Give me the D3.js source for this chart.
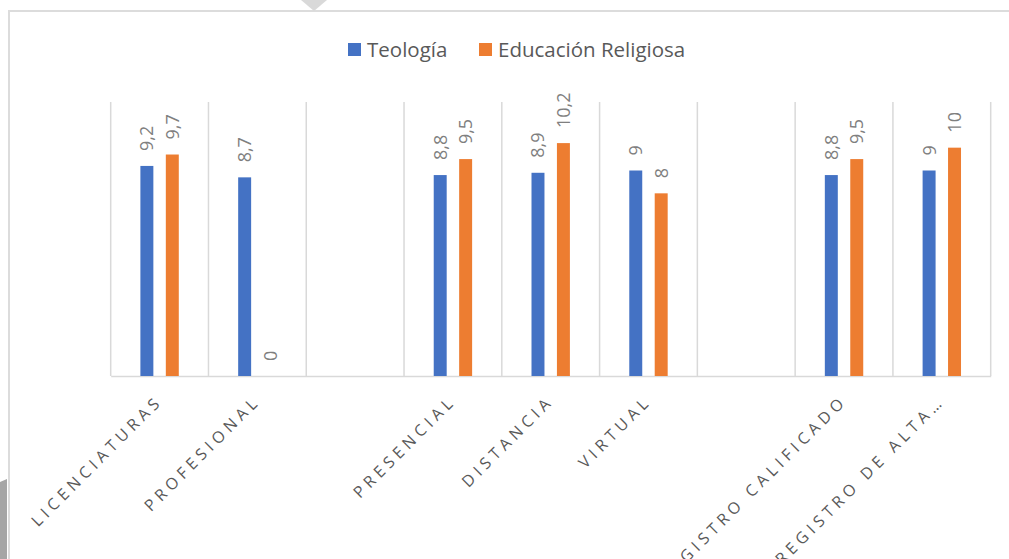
<!DOCTYPE html>
<html lang="es">
    <head>
        <meta charset="UTF-8" />
        <title>Teología vs Educación Religiosa</title>
        <script src="https://cdn.jsdelivr.net/npm/d3@7"></script>
        <style>
            body { margin: 0; padding: 0; background: #fff; }
            text { font-family: "Open Sans", "Noto Sans", sans-serif; }
        </style>
    </head>
    <body>
        <script>
            // datos (los huecos son categorías vacías)
            const categorias = ['LICENCIATURAS', 'PROFESIONAL', '', 'PRESENCIAL', 'DISTANCIA', 'VIRTUAL', '', 'REGISTRO CALIFICADO', 'REGISTRO DE ALTA…'];
            const series = ['Teología', 'Educación Religiosa'];
            const teologia = [9.2, 8.7, null, 8.8, 8.9, 9, null, 8.8, 9];
            const educacion = [9.7, 0, null, 9.5, 10.2, 8, null, 9.5, 10];
            const etiquetasValor = [
                ['9,2', '8,7', '', '8,8', '8,9', '9', '', '8,8', '9'],
                ['9,7', '0', '', '9,5', '10,2', '8', '', '9,5', '10']
            ];
            const colores = ['#4472C4', '#ED7D31'];

            const width = 1009;
            const height = 559;

            const svg = d3
                .select('body')
                .append('svg')
                .attr('width', width)
                .attr('height', height)
                .style('background-color', '#fff');

            // marco del gráfico
            svg.append('path')
                .attr('d', 'M1009 11 H9 V559')
                .attr('fill', 'none')
                .attr('stroke', '#dcdcdc')
                .attr('stroke-width', 2);
            svg.append('path').attr('d', 'M301 0 H327 L314 11 Z').attr('fill', '#d9d9d9');
            svg.append('path').attr('d', 'M0 482 L7 479 V559 H0 Z').attr('fill', '#a6a6a6');

            const x = d3.scaleBand().domain(d3.range(categorias.length)).range([110.7, 990.7]);
            const x1 = d3.scaleBand().domain(d3.range(series.length)).range([-19.2, 19.2]).paddingInner(0.49);
            const y = d3.scaleLinear().domain([0, 12]).range([376, 102]);

            // líneas de división verticales
            const bordes = d3.range(categorias.length + 1).map((i) => (i < categorias.length ? x(i) : x(i - 1) + x.bandwidth()));
            svg.append('g')
                .selectAll('line')
                .data(bordes)
                .join('line')
                .attr('x1', (d) => d)
                .attr('x2', (d) => d)
                .attr('y1', y(12))
                .attr('y2', y(0))
                .attr('stroke', '#d9d9d9')
                .attr('stroke-width', 1.5);

            // eje de categorías
            const eje = svg.append('g')
                .attr('transform', `translate(0,${y(0)})`)
                .call(d3.axisBottom(x).tickSize(0).tickFormat((i) => categorias[i]));
            eje.select('.domain').attr('stroke', '#d9d9d9').attr('stroke-width', 1.5);
            eje.selectAll('text')
                .attr('fill', '#595959')
                .attr('font-size', 16)
                .attr('letter-spacing', '4.6px')
                .attr('text-anchor', 'end')
                .attr('dy', 0)
                .attr('y', 0)
                .attr('transform', 'translate(4,26) rotate(-45)');

            const datos = [teologia, educacion];
            const grupos = svg.append('g')
                .selectAll('g')
                .data(datos)
                .join('g')
                .attr('fill', (d, s) => colores[s]);

            grupos.selectAll('rect')
                .data((d, s) => d.map((v, i) => ({ v, i, s })).filter((e) => e.v !== null))
                .join('rect')
                .attr('x', (e) => x(e.i) + x.bandwidth() / 2 + x1(e.s))
                .attr('width', x1.bandwidth())
                .attr('y', (e) => y(e.v))
                .attr('height', (e) => y(0) - y(e.v));

            // etiquetas de valor giradas
            grupos.selectAll('text')
                .data((d, s) => d.map((v, i) => ({ v, i, s })).filter((e) => e.v !== null))
                .join('text')
                .attr('transform', (e) => {
                    const cx = x(e.i) + x.bandwidth() / 2 + x1(e.s) + x1.bandwidth() / 2;
                    return `translate(${cx},${y(e.v) - 15}) rotate(-90)`;
                })
                .attr('dy', '0.36em')
                .attr('fill', '#7f7f7f')
                .attr('font-size', 18)
                .text((e) => etiquetasValor[e.s][e.i]);

            // leyenda
            const leyenda = svg.append('g').attr('transform', 'translate(348,43)');
            const posLeyenda = [0, 131];
            const item = leyenda.selectAll('g')
                .data(series)
                .join('g')
                .attr('transform', (d, i) => `translate(${posLeyenda[i]},0)`);
            item.append('rect').attr('width', 13).attr('height', 13).attr('fill', (d, i) => colores[i]);
            item.append('text')
                .attr('x', 19)
                .attr('y', 14)
                .attr('fill', '#595959')
                .attr('font-size', 20.5)
                .text((d) => d);
        </script>
    </body>
</html>
